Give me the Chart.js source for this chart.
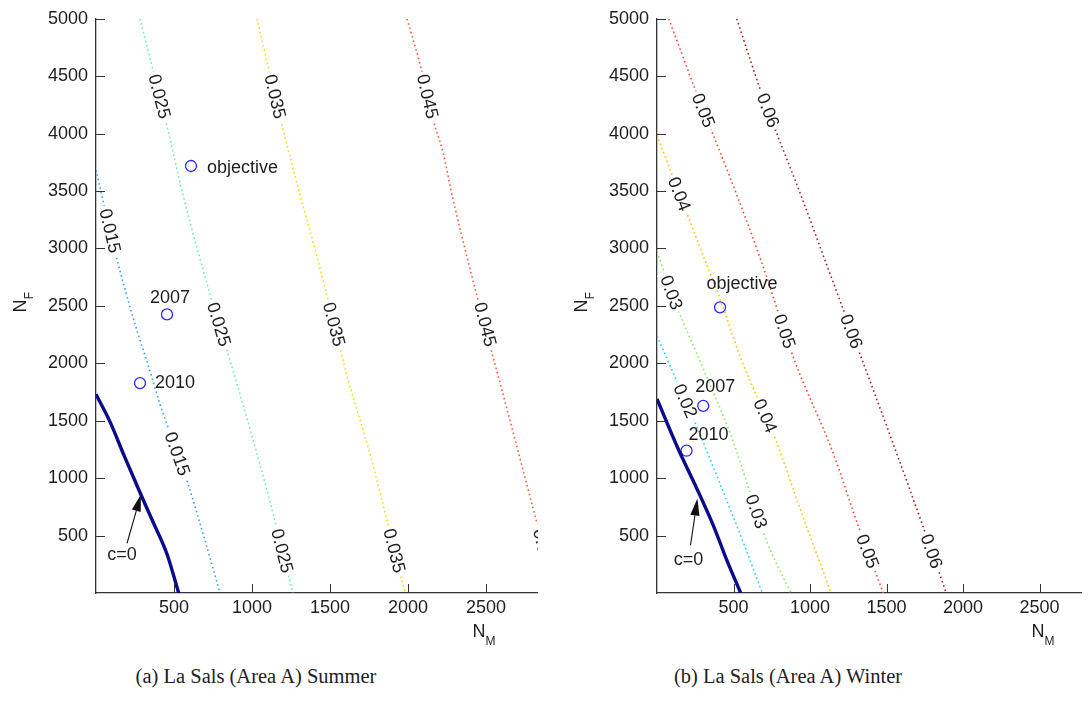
<!DOCTYPE html>
<html><head><meta charset="utf-8">
<script src="https://cdn.jsdelivr.net/npm/chart.js@4"></script>
<style>
html,body{margin:0;padding:0;background:#fff}
body{width:1088px;height:708px;overflow:hidden;position:relative}
#c1{position:absolute;left:0;top:0}
#c2{position:absolute;left:561px;top:0}
.cap{position:absolute;top:665px;font-family:"Liberation Serif","Times New Roman",serif;font-size:20.5px;color:#222;white-space:nowrap;transform:translateX(-50%)}
</style></head><body>
<canvas id="c1" width="560" height="660"></canvas>
<canvas id="c2" width="527" height="660"></canvas>
<div class="cap" style="left:256px">(a) La Sals (Area A) Summer</div>
<div class="cap" style="left:788px">(b) La Sals (Area A) Winter</div>
<script>
// ---------- DATA ----------
const xTicks = [500, 1000, 1500, 2000, 2500];
const yTicks = [500, 1000, 1500, 2000, 2500, 3000, 3500, 4000, 4500, 5000];
const yMax = 5000;
const summerXMax = 2827;
const winterXMax = 2772;

// Summer contours [N_M, N_F]
const sumC0  = [[0,1730],[90,1490],[179,1200],[282,875],[365,620],[455,340],[530,0]];
const sum015 = [[0,3683],[122,2972],[239,2394],[346,1932],[410,1646],[583,979],[711,399],[795,0]];
const sum025 = [[282,5000],[442,4142],[558,3466],[731,2600],[904,1820],[1096,893],[1263,0]];
const sum035 = [[1032,5000],[1199,4038],[1320,3406],[1417,2929],[1615,1863],[1756,1213],[1865,633],[1981,0]];
const sum045 = [[1994,5000],[2083,4575],[2160,4125],[2224,3839],[2288,3432],[2705,1239],[2827,607],[2944,0]];
const sumLabelLevels = [3154, 1213];       // N_F where 0.015 labels sit
const sumLabelLevels3 = [4324, 2340, 368]; // N_F where 0.025/0.035/0.045 labels sit

// Winter contours [N_M, N_F]
const winC0 = [[0,1690],[135,1265],[257,919],[373,572],[456,286],[547,0]];
const win02 = [[0,2236],[129,1846],[244,1499],[437,867],[566,433],[688,0]];
const win03 = [[0,2972],[116,2539],[309,1932],[489,1352],[714,459],[875,0]];
const win04 = [[0,3986],[199,3293],[309,2912],[418,2539],[547,2045],[778,1326],[932,745],[1138,0]];
const win05 = [[77,5000],[257,4359],[489,3579],[682,2886],[900,2019],[1145,1239],[1325,546],[1479,0]];
const win06 = [[521,5000],[682,4359],[952,3423],[1106,2868],[1543,1300],[1743,563],[1890,0]];
const win02Labels = [1673];
const win03Labels = [2617, 711];
const win04Labels = [3475, 1543];
const win56Labels = [4203, 2279, 364];

// Marked points
const ptNames = ['objective', '2007', '2010'];
const sumNM = [609, 455, 282];
const sumNF = [3718, 2426, 1828];
const winNM = [412, 302, 193];
const winNF = [2487, 1629, 1239];

// c=0 annotation [N_M, N_F]
const sumArrowTip = [288, 858], sumArrowTail = [199, 433], sumArrowText = [167, 329];
const winArrowTip = [264, 823], winArrowTail = [219, 416], winArrowText = [206, 286];

// ---------- RENDERING ----------
const FONT = '"Liberation Sans", Arial, Helvetica, sans-serif';
const TXT = '#1e1e1e';
const FS = 18;

function toXY(a){ return a.map(p => ({x:p[0], y:p[1]})); }

function pix(chart, p){ return [chart.scales.x.getPixelForValue(p[0]), chart.scales.y.getPixelForValue(p[1])]; }

function onLine(chart, line, nf){
  const pts = line.map(p => pix(chart, p));
  const yp = chart.scales.y.getPixelForValue(nf);
  for (let i = 0; i < pts.length - 1; i++){
    const a = pts[i], b = pts[i+1];
    if (yp >= a[1] && yp <= b[1]){
      const t = (yp - a[1]) / (b[1] - a[1] || 1);
      return {x: a[0] + t*(b[0]-a[0]), y: yp, ang: Math.atan2(b[1]-a[1], b[0]-a[0])};
    }
  }
  const a = pts[pts.length-2], b = pts[pts.length-1];
  const t = (yp - a[1]) / (b[1] - a[1]);
  return {x: a[0] + t*(b[0]-a[0]), y: yp, ang: Math.atan2(b[1]-a[1], b[0]-a[0])};
}

function makeChart(cfg){
  const datasets = [];
  cfg.contours.forEach(c => datasets.push({
    data: toXY(c.pts), showLine: true, borderColor: c.color, borderWidth: 1.6,
    borderDash: [1.6, 2.9], pointRadius: 0, cubicInterpolationMode: 'monotone', fill: false
  }));
  datasets.push({
    data: toXY(cfg.c0), showLine: true, borderColor: '#0a0a8c', borderWidth: 3.4,
    pointRadius: 0, cubicInterpolationMode: 'monotone', fill: false
  });
  datasets.push({
    data: cfg.nm.map((v,i) => ({x: v, y: cfg.nf[i]})), showLine: false,
    pointRadius: 5.5, pointBorderWidth: 1.3, pointBorderColor: '#2a2aff',
    pointBackgroundColor: 'rgba(0,0,0,0)', pointStyle: 'circle'
  });

  const overlay = {
    id: 'overlay',
    afterDatasetsDraw(chart){
      const ctx = chart.ctx, ca = chart.chartArea;
      ctx.save();
      ctx.beginPath(); ctx.rect(ca.left, ca.top - 2, ca.right - ca.left + 1, ca.bottom - ca.top + 2); ctx.clip();
      ctx.font = FS + 'px ' + FONT;
      ctx.textAlign = 'center'; ctx.textBaseline = 'middle';
      cfg.contours.forEach(c => {
        c.labels.forEach(nf => {
          const p = onLine(chart, c.pts, nf);
          ctx.save();
          ctx.translate(p.x, p.y); ctx.rotate(p.ang);
          const w = ctx.measureText(c.label).width;
          ctx.fillStyle = '#fff'; ctx.fillRect(-w/2 - 3, -8, w + 6, 16);
          ctx.fillStyle = TXT; ctx.fillText(c.label, 0, 1);
          ctx.restore();
        });
      });
      ctx.restore();

      // point labels
      ctx.save();
      ctx.font = FS + 'px ' + FONT; ctx.fillStyle = TXT; ctx.textBaseline = 'middle';
      cfg.nm.forEach((v, i) => {
        const p = pix(chart, [v, cfg.nf[i]]);
        const st = cfg.ptStyle[i];
        ctx.textAlign = st.align;
        ctx.fillText(ptNames[i], p[0] + st.dx, p[1] + st.dy);
      });
      // c=0 annotation
      const tip = pix(chart, cfg.arrow.tip), tail = pix(chart, cfg.arrow.tail), tx = pix(chart, cfg.arrow.text);
      ctx.strokeStyle = '#111'; ctx.fillStyle = '#111'; ctx.lineWidth = 1.1;
      const ang = Math.atan2(tip[1]-tail[1], tip[0]-tail[0]);
      const L = 17, H = 4.6;
      const bx = tip[0] - L*Math.cos(ang), by = tip[1] - L*Math.sin(ang);
      ctx.beginPath(); ctx.moveTo(tail[0], tail[1]); ctx.lineTo(bx, by); ctx.stroke();
      ctx.beginPath(); ctx.moveTo(tip[0], tip[1]);
      ctx.lineTo(bx + H*Math.sin(ang), by - H*Math.cos(ang));
      ctx.lineTo(bx - H*Math.sin(ang), by + H*Math.cos(ang));
      ctx.closePath(); ctx.fill();
      ctx.textAlign = 'center'; ctx.fillStyle = TXT;
      ctx.fillText('c=0', tx[0], tx[1]);
      ctx.restore();
    },
    afterDraw(chart){
      const ctx = chart.ctx, ca = chart.chartArea;
      ctx.save();
      ctx.strokeStyle = '#333'; ctx.lineWidth = 1;
      chart.scales.x.ticks.forEach(t => {
        const x = Math.round(chart.scales.x.getPixelForValue(t.value)) + 0.5;
        ctx.beginPath(); ctx.moveTo(x, ca.bottom); ctx.lineTo(x, ca.bottom - 9); ctx.stroke();
      });
      chart.scales.y.ticks.forEach(t => {
        const y = Math.round(chart.scales.y.getPixelForValue(t.value)) + 0.5;
        ctx.beginPath(); ctx.moveTo(ca.left, y); ctx.lineTo(ca.left + 9, y); ctx.stroke();
      });
      // axis titles
      ctx.fillStyle = TXT; ctx.textAlign = 'center'; ctx.textBaseline = 'middle';
      ctx.font = '18px ' + FONT; ctx.fillText('N', cfg.xTitle[0], cfg.xTitle[1]);
      ctx.font = '12px ' + FONT; ctx.fillText('M', cfg.xTitle[0] + 11.5, cfg.xTitle[1] + 10);
      ctx.save();
      ctx.translate(cfg.yTitle[0], cfg.yTitle[1]); ctx.rotate(-Math.PI/2);
      ctx.font = '18px ' + FONT; ctx.fillText('N', 0, 0);
      ctx.font = '12px ' + FONT; ctx.fillText('F', 10.5, 9);
      ctx.restore();
      ctx.restore();
    }
  };

  return new Chart(document.getElementById(cfg.id), {
    type: 'scatter',
    data: { datasets },
    options: {
      responsive: false, animation: false,
      layout: { padding: { left: 0, top: 16, right: cfg.padRight, bottom: 0 } },
      plugins: { legend: { display: false }, tooltip: { enabled: false } },
      scales: {
        x: {
          type: 'linear', min: 0, max: cfg.xMax,
          afterBuildTicks: s => { s.ticks = xTicks.map(v => ({value: v})); },
          afterFit: s => { s.height = 67; },
          grid: { display: false, drawTicks: false, tickLength: 0 },
          border: { display: true, color: '#333', width: 1.3 },
          ticks: { font: { family: FONT, size: FS }, color: TXT, padding: 4, maxRotation: 0, autoSkip: false,
                   callback: v => String(v) }
        },
        y: {
          type: 'linear', min: 0, max: yMax,
          afterBuildTicks: s => { s.ticks = yTicks.map(v => ({value: v})); },
          afterFit: s => { s.width = 96; },
          grid: { display: false, drawTicks: false, tickLength: 0 },
          border: { display: true, color: '#333', width: 1.3 },
          ticks: { font: { family: FONT, size: FS }, color: TXT, padding: 8, autoSkip: false,
                   callback: v => String(v) }
        }
      }
    },
    plugins: [overlay]
  });
}

makeChart({
  id: 'c1', xMax: summerXMax, padRight: 23, c0: sumC0,
  contours: [
    {pts: sum015, label: '0.015', color: '#3ea2f2', labels: sumLabelLevels},
    {pts: sum025, label: '0.025', color: '#6cf0a4', labels: sumLabelLevels3},
    {pts: sum035, label: '0.035', color: '#f2e000', labels: sumLabelLevels3},
    {pts: sum045, label: '0.045', color: '#ff5a3c', labels: sumLabelLevels3}
  ],
  nm: sumNM, nf: sumNF,
  ptStyle: [{dx:16, dy:2, align:'left'}, {dx:3, dy:-16, align:'center'}, {dx:15, dy:0, align:'left'}],
  arrow: {tip: sumArrowTip, tail: sumArrowTail, text: sumArrowText},
  xTitle: [479, 632], yTitle: [21, 306]
});

makeChart({
  id: 'c2', xMax: winterXMax, padRight: 0, c0: winC0,
  contours: [
    {pts: win02, label: '0.02', color: '#22d2f0', labels: win02Labels},
    {pts: win03, label: '0.03', color: '#8ee85a', labels: win03Labels},
    {pts: win04, label: '0.04', color: '#ffc400', labels: win04Labels},
    {pts: win05, label: '0.05', color: '#ff4a30', labels: win56Labels},
    {pts: win06, label: '0.06', color: '#a02828', labels: win56Labels}
  ],
  nm: winNM, nf: winNF,
  ptStyle: [{dx:22, dy:-23, align:'center'}, {dx:12, dy:-19, align:'center'}, {dx:22, dy:-16, align:'center'}],
  arrow: {tip: winArrowTip, tail: winArrowTail, text: winArrowText},
  xTitle: [477, 632], yTitle: [21, 306]
});
</script>
</body></html>
